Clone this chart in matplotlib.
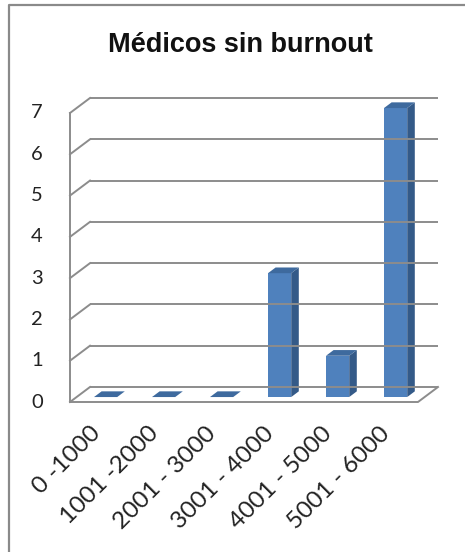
import matplotlib.pyplot as plt
from matplotlib.patches import Polygon
from matplotlib.lines import Line2D

plt.rcParams['font.family'] = ['Lato', 'DejaVu Sans']

categories = ['0 -1000', '1001 -2000', '2001 - 3000', '3001 - 4000', '4001 - 5000', '5001 - 6000']
values = [0, 0, 0, 3, 1, 7]
y_ticks = [0, 1, 2, 3, 4, 5, 6, 7]

W, H = 465, 552
fig = plt.figure(figsize=(W / 100, H / 100), dpi=100)

# front plane of the 3d box, in pixels
left, right, bottom, top = 70, 418, 402, 113
ax = fig.add_axes([left / W, 1 - bottom / H, (right - left) / W, (bottom - top) / H])
ax.set_xlim(-0.5, 5.5)
ax.set_ylim(0, 7)
ax.axis('off')

# depth of the box expressed in data units
DX = 20 / ((right - left) / 6)
DY = 15 / ((bottom - top) / 7)

grid_c = '#8c8c8c'
lw = 1.4

for v in y_ticks:
    # back wall gridline plus the diagonal on the side wall
    ax.plot([-0.5 + DX, 5.5 + DX], [v + DY, v + DY], color=grid_c, lw=lw, clip_on=False, solid_capstyle='butt')
    ax.plot([-0.5, -0.5 + DX], [v, v + DY], color=grid_c, lw=lw, clip_on=False)
    ax.text(-1.07, v, str(v), ha='center', va='center', fontsize=14.5, color='#222222')

ax.plot([-0.5, -0.5], [0, 7], color=grid_c, lw=lw, clip_on=False)
ax.plot([-0.5, 5.5, 5.5 + DX], [0, 0, DY], color=grid_c, lw=lw, clip_on=False)

front_c = '#4f81bd'
side_c = '#345a88'
top_c = '#3e6a9e'
bw = 0.2
d0, d1 = 0.33, 0.71

for i, v in enumerate(values):
    x0 = i - bw + d0 * DX
    x1 = i + bw + d0 * DX
    y0 = d0 * DY
    ox, oy = (d1 - d0) * DX, (d1 - d0) * DY
    top_face = [(x0, y0 + v), (x1, y0 + v), (x1 + ox, y0 + v + oy), (x0 + ox, y0 + v + oy)]
    if v > 0:
        ax.add_patch(Polygon([(x1, y0), (x1 + ox, y0 + oy), (x1 + ox, y0 + v + oy), (x1, y0 + v)],
                             closed=True, fc=side_c, ec='none', clip_on=False))
        ax.add_patch(Polygon([(x0, y0), (x1, y0), (x1, y0 + v), (x0, y0 + v)],
                             closed=True, fc=front_c, ec='none', clip_on=False))
    ax.add_patch(Polygon(top_face, closed=True, fc=top_c, ec='none', clip_on=False))

for i, lab in enumerate(categories):
    ax.text(i - 0.04, -0.68, lab, rotation=45, rotation_mode='anchor', ha='right', va='center',
            fontsize=17.5, color='#222222')

fig.text(240 / W, 1 - 52 / H, 'Médicos sin burnout', ha='center', va='baseline',
         fontsize=19.5, fontweight='bold', color='#111111', family='Liberation Sans')

# outer chart frame
fig.add_artist(Line2D([8.5 / W, 8.5 / W, 1], [0, 1 - 4.5 / H, 1 - 4.5 / H],
                      transform=fig.transFigure, color='#8a8a8a', lw=1.6))

fig.savefig('out.png', dpi=100, facecolor='white')
